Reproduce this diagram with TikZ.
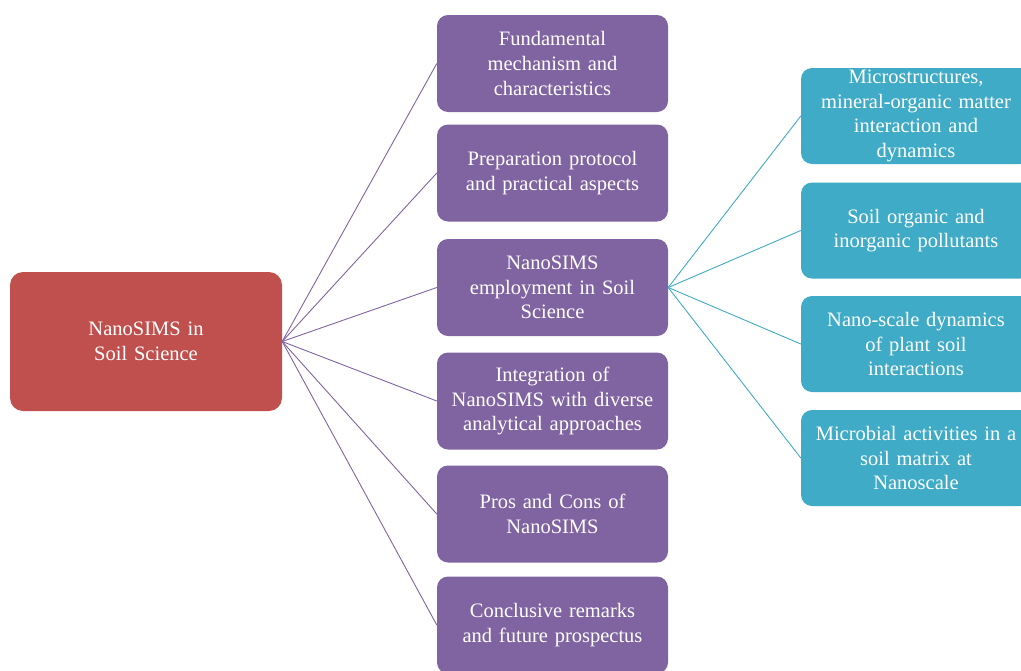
\documentclass[tikz,border=0pt]{standalone}
\usepackage{fontspec}
\setmainfont{Liberation Serif}[WordSpace=0.8]
\definecolor{rootred}{HTML}{C0504D}
\definecolor{purp}{HTML}{8064A2}
\definecolor{teal2}{HTML}{3FABC6}
\begin{document}
\begin{tikzpicture}[x=1pt,y=-1pt,
  box/.style={rectangle, rounded corners=11pt, text=white, align=center,
    font=\fontsize{20.5}{24.8}\selectfont, inner sep=0pt},
  rootbox/.style={box, fill=rootred, minimum width=272pt, minimum height=139pt, text width=250pt, rounded corners=13pt},
  pbox/.style={box, fill=purp, minimum width=231pt, minimum height=97pt, text width=228pt},
  tbox/.style={box, fill=teal2, minimum width=230pt, minimum height=96pt, text width=228pt},
  plink/.style={draw=purp, line width=0.9pt},
  tlink/.style={draw=teal2, line width=0.9pt}]
\useasboundingbox (0,0) rectangle (1021,670);
\node[rootbox] (root) at (146,341.5) {NanoSIMS in\\Soil Science};
\node[pbox] (p1) at (552.5,63.5) {Fundamental\\mechanism and\\characteristics};
\node[pbox] (p2) at (552.5,173) {Preparation protocol\\and practical aspects};
\node[pbox] (p3) at (552.5,287.5) {NanoSIMS\\employment in Soil\\Science};
\node[pbox] (p4) at (552.5,401) {Integration of\\NanoSIMS with diverse\\analytical approaches};
\node[pbox] (p5) at (552.5,514) {Pros and Cons of\\NanoSIMS};
\node[pbox] (p6) at (552.5,625) {Conclusive remarks\\and future prospectus};
\node[tbox] (t1) at (916,116) {Microstructures,\\mineral-organic matter\\interaction and\\dynamics};
\node[tbox] (t2) at (916,230.5) {Soil organic and\\inorganic pollutants};
\node[tbox] (t3) at (916,344) {Nano-scale dynamics\\of plant soil\\interactions};
\node[tbox] (t4) at (916,458) {Microbial activities in a\\soil matrix at\\Nanoscale};
\foreach \i in {1,...,6} \draw[plink] (root.east) -- (p\i.west);
\foreach \i in {1,...,4} \draw[tlink] (p3.east) -- (t\i.west);
\end{tikzpicture}
\end{document}
